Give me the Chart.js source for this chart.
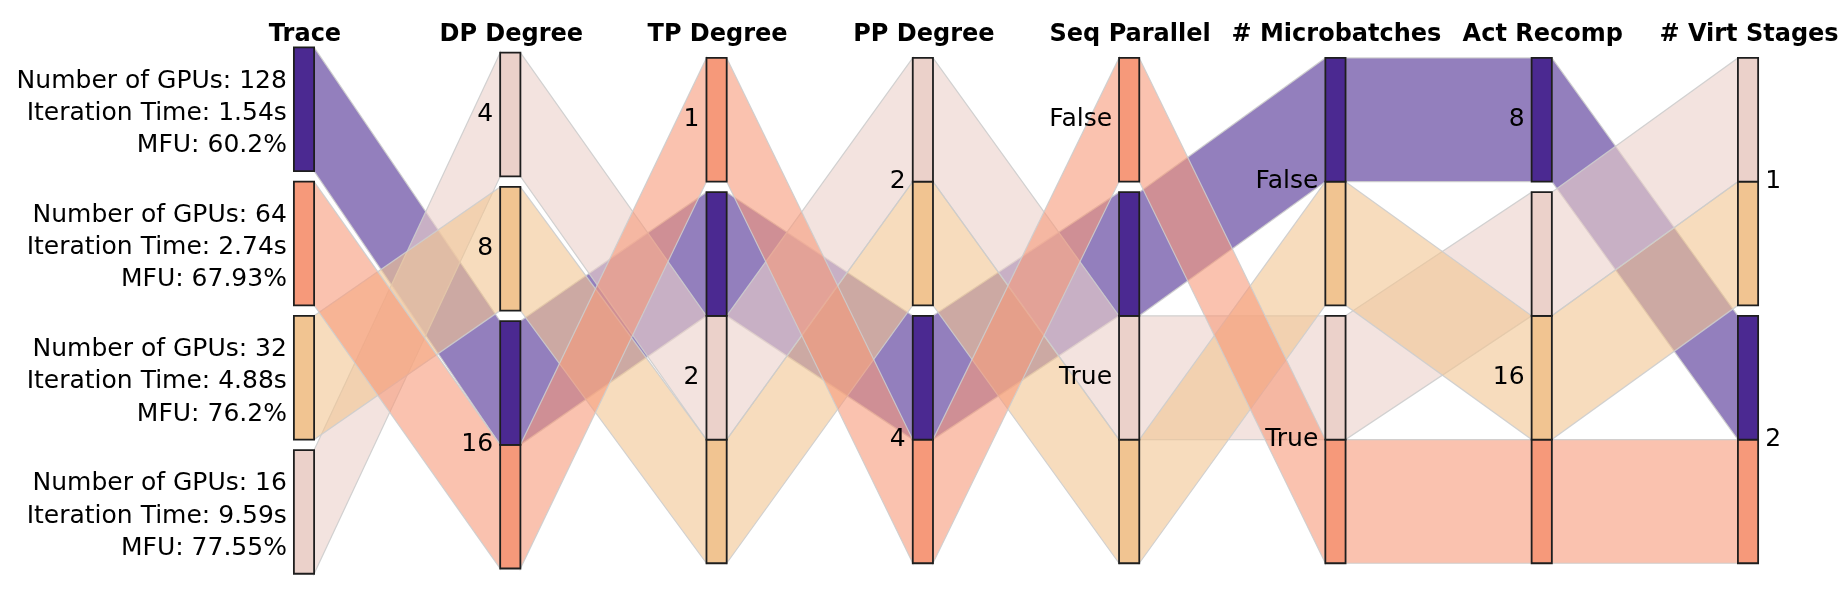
<!DOCTYPE html>
<html>
<head>
<meta charset="utf-8">
<script src="https://cdn.jsdelivr.net/npm/chart.js@4.4.1/dist/chart.umd.min.js"></script>
<style>
html,body{margin:0;padding:0;background:#ffffff;}
#wrap{width:1841px;height:601px;position:relative;}
</style>
</head>
<body>
<div id="wrap"><canvas id="c"></canvas></div>
<script>
// ---- data (one row per trace) ----
const dimensionTitles = ['Trace', 'DP Degree', 'TP Degree', 'PP Degree', 'Seq Parallel', '# Microbatches', 'Act Recomp', '# Virt Stages'];
const gpuCounts      = [128, 16, 32, 64];
const iterationTimes = ['1.54', '9.59', '4.88', '2.74'];
const mfuValues      = ['60.2', '77.55', '76.2', '67.93'];
const dpDegree       = [16, 4, 8, 16];
const tpDegree       = [2, 2, 2, 1];
const ppDegree       = [4, 2, 2, 4];
const seqParallel    = ['True', 'True', 'True', 'False'];
const microbatches   = ['False', 'True', 'False', 'True'];
const actRecomp      = [8, 16, 16, 16];
const virtStages     = [2, 1, 1, 2];
const traceColors    = [[75, 41, 145], [235, 209, 202], [241, 196, 145], [246, 153, 122]];

// ---- style constants ----
const RIBBON_ALPHA = 0.6;
const FONT = '"DejaVu Sans", Verdana, sans-serif';
const LABEL_SIZE = 25;
const TITLE_SIZE = 24;

const rows = gpuCounts.map((_, i) => i);
const traceText = rows.map(r => [
  'Number of GPUs: ' + gpuCounts[r],
  'Iteration Time: ' + iterationTimes[r] + 's',
  'MFU: ' + mfuValues[r] + '%'
]);
const traceKeys = rows.map(r => 'T' + gpuCounts[r]);

function sortedCats(vals) {
  const u = [...new Set(vals)];
  if (typeof u[0] === 'number') u.sort((a, b) => a - b); else u.sort();
  return u;
}
const traceOrder = rows.slice().sort((a, b) => gpuCounts[b] - gpuCounts[a]).map(r => traceKeys[r]);

const dims = [
  {title: dimensionTitles[0], values: traceKeys, cats: traceOrder, labels: Object.fromEntries(rows.map(r => [traceKeys[r], traceText[r]]))},
  {title: dimensionTitles[1], values: dpDegree},
  {title: dimensionTitles[2], values: tpDegree},
  {title: dimensionTitles[3], values: ppDegree},
  {title: dimensionTitles[4], values: seqParallel},
  {title: dimensionTitles[5], values: microbatches},
  {title: dimensionTitles[6], values: actRecomp},
  {title: dimensionTitles[7], values: virtStages}
];
dims.forEach(d => { if (!d.cats) d.cats = sortedCats(d.values); });

// ---- stack each dimension's categories (in count units) ----
const GAP = 10.5 / 123.7;   // gap between categories, in count units
const HW = 0.049;           // half width of a category bar, in dimension units
dims.forEach(dim => {
  const n = dim.cats.length;
  const total = rows.length + (n - 1) * GAP;
  let y = -total / 2;
  dim.bands = [];
  dim.catPos = [];
  dim.cats.forEach(cat => {
    const start = y;
    rows.forEach(r => {
      if (dim.values[r] === cat) { dim.bands[r] = [y, y + 1]; y += 1; }
    });
    dim.catPos.push({cat, center: (start + y) / 2});
    y += GAP;
  });
});

const rgba = (c, a) => `rgba(${c[0]},${c[1]},${c[2]},${a})`;

const datasets = [];
// boxes (on top)
rows.forEach(r => {
  dims.forEach((dim, d) => {
    const [t, b] = dim.bands[r];
    datasets.push({
      data: [{x: d - HW, y: t}, {x: d + HW, y: t}, {x: d + HW, y: b}, {x: d - HW, y: b}, {x: d - HW, y: t}],
      fill: 'shape', backgroundColor: rgba(traceColors[r], 1),
      borderColor: '#1e1e1e', borderWidth: 1.8, borderJoinStyle: 'miter', borderCapStyle: 'square',
      pointRadius: 0, tension: 0, order: 0
    });
  });
});
// ribbons between adjacent dimensions
rows.forEach(r => {
  for (let d = 0; d < dims.length - 1; d++) {
    const a = dims[d].bands[r], b = dims[d + 1].bands[r];
    datasets.push({
      data: [{x: d + HW, y: a[0]}, {x: d + 1 - HW, y: b[0]}, {x: d + 1 - HW, y: b[1]}, {x: d + HW, y: a[1]}, {x: d + HW, y: a[0]}],
      fill: 'shape', backgroundColor: rgba(traceColors[r], RIBBON_ALPHA),
      borderColor: 'rgba(205,205,205,0.9)', borderWidth: 1.2,
      pointRadius: 0, tension: 0, order: 100 - r
    });
  }
});

const labelPlugin = {
  id: 'parcatsLabels',
  afterDatasetsDraw(chart) {
    const {ctx, scales: {x, y}} = chart;
    ctx.save();
    ctx.fillStyle = '#000';
    ctx.textBaseline = 'alphabetic';
    ctx.font = `bold ${TITLE_SIZE}px ${FONT}`;
    ctx.textAlign = 'center';
    dims.forEach((dim, d) => ctx.fillText(dim.title, x.getPixelForValue(d) + 1, 41));
    ctx.font = `${LABEL_SIZE}px ${FONT}`;
    dims.forEach((dim, d) => {
      const last = d === dims.length - 1;
      const px = last ? x.getPixelForValue(d + HW) + 7 : x.getPixelForValue(d - HW) - 7;
      ctx.textAlign = last ? 'left' : 'right';
      dim.catPos.forEach(({cat, center}) => {
        const cy = y.getPixelForValue(center);
        const text = dim.labels ? dim.labels[cat] : String(cat);
        if (Array.isArray(text)) {
          text.forEach((line, k) => ctx.fillText(line, px, cy + 10.6 + (k - 1) * 32.3));
        } else {
          ctx.fillText(text, px, cy + 6.5);
        }
      });
    });
    ctx.restore();
  }
};

new Chart(document.getElementById('c'), {
  type: 'line',
  data: {datasets},
  options: {
    responsive: true, maintainAspectRatio: false, animation: false, devicePixelRatio: 1,
    events: [],
    layout: {padding: 0},
    plugins: {legend: {display: false}, tooltip: {enabled: false}, filler: {propagate: false}},
    scales: {
      x: {type: 'linear', display: false, min: -304 / 206.29, max: -304 / 206.29 + 1841 / 206.29},
      y: {type: 'linear', display: false, reverse: true, min: -310.6 / 123.7, max: -310.6 / 123.7 + 601 / 123.7}
    }
  },
  plugins: [labelPlugin]
});
</script>
</body>
</html>
